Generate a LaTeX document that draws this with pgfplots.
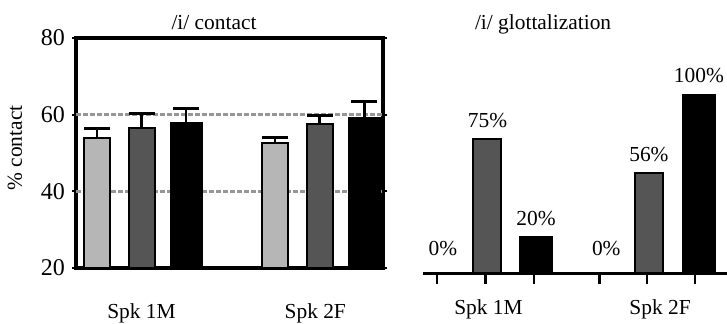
\documentclass[border=0pt]{standalone}
\usepackage{pgfplots}
\pgfplotsset{compat=1.18}
\usepackage{fontspec}
\setmainfont{Liberation Serif}
\definecolor{lgray}{RGB}{182,182,182}
\definecolor{dgray}{RGB}{85,85,85}
\definecolor{dashc}{RGB}{150,150,150}
\pgfplotsset{
  eb/.style={
    error bars/y dir=plus,
    error bars/y explicit,
    error bars/error mark=|,
    error bars/error mark options={mark size=6.5pt, line width=1.4pt, black},
    error bars/error bar style={line width=1.3pt, black},
  }
}
\begin{document}
\begin{tikzpicture}[font=\fontsize{10.7}{12.8}\selectfont]
\useasboundingbox (-38pt,-27.5pt) rectangle (325.5pt,134pt);
% ---------------- left panel ----------------
\begin{axis}[
  at={(0pt,0pt)}, anchor=south west,
  scale only axis, width=153.5pt, height=115pt,
  xmin=0.53, xmax=7.42, ymin=20, ymax=80,
  ytick={20,40,60,80},
  xtick={2,5.9}, xticklabels={Spk 1M, Spk 2F},
  x tick style={draw=none},
  xticklabel style={anchor=base, yshift=-23pt},
  y tick style={line width=1pt, black},
  tick align=outside, major tick length=2pt,
  yticklabel style={font=\fontsize{12}{14}\selectfont},
  /pgf/number format/assume math mode=true,
  axis line style={line width=1.6pt},
  ylabel={\% contact},
  ylabel style={at={(axis description cs:-0.199,0.522)}, anchor=center},
  title={/i/ contact},
  title style={at={(axis description cs:0.4495,1.065)}, anchor=base, yshift=-9pt},
]
\addplot[dashc, line width=1.2pt, dash pattern=on 2.5pt off 1pt] coordinates {(0.53,60) (7.42,60)};
\addplot[dashc, line width=1.2pt, dash pattern=on 2.5pt off 1pt] coordinates {(0.53,40) (7.42,40)};
\addplot[ybar, bar shift=0pt, bar width=13pt, fill=lgray, draw=black, line width=1pt, eb]
  coordinates {(1,53.8) +- (0,2.5) (5,52.5) +- (0,1.6)};
\addplot[ybar, bar shift=0pt, bar width=13pt, fill=dgray, draw=black, line width=1pt, eb]
  coordinates {(2,56.4) +- (0,4.0) (6,57.6) +- (0,2.1)};
\addplot[ybar, bar shift=0pt, bar width=15.5pt, fill=black, draw=black, line width=1pt, eb]
  coordinates {(3,57.8) +- (0,3.9) (7,59.1) +- (0,4.3)};
\end{axis}
% ---------------- right panel ----------------
\begin{axis}[
  at={(173.5pt,-2.5pt)}, anchor=south west,
  scale only axis, width=152pt, height=117pt,
  xmin=0.71, xmax=6.98, ymin=0, ymax=131.2,
  axis x line*=bottom, axis y line=none, ytick=\empty,
  xtick={1,2,3,4.35,5.33,6.32}, xticklabels={,,,,,},
  extra x ticks={2.06,5.6}, extra x tick labels={Spk 1M, Spk 2F},
  extra x tick style={major tick length=0pt, xticklabel style={anchor=base, yshift=-20.5pt}},
  tick align=outside, major tick length=5.5pt,
  x tick style={line width=1.2pt, black},
  axis line style={line width=1.5pt},
  title={/i/ glottalization},
  title style={at={(axis description cs:0.395,1.068)}, anchor=base, yshift=-9pt},
  clip=false,
]
\addplot[ybar, bar shift=0pt, bar width=14pt, fill=dgray, draw=black, line width=1pt,
  nodes near coords, point meta=explicit symbolic,
  nodes near coords style={anchor=base, yshift=6pt, black}]
  coordinates {(2.04,75) [75\%] (5.37,56) [56\%]};
\addplot[ybar, bar shift=0pt, bar width=16pt, fill=black, draw=black, line width=1pt,
  nodes near coords, point meta=explicit symbolic,
  nodes near coords style={anchor=base, yshift=6pt, black}]
  coordinates {(3.04,20) [20\%] (6.40,100) [100\%]};
\addplot[draw=none, no marks,
  nodes near coords, point meta=explicit symbolic,
  nodes near coords style={anchor=base, yshift=9pt, black}]
  coordinates {(1.12,0) [0\%] (4.49,0) [0\%]};
\end{axis}
\end{tikzpicture}
\end{document}
